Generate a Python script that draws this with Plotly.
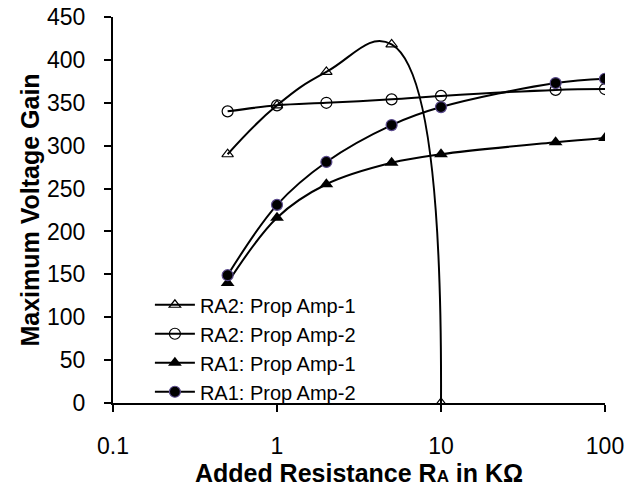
import plotly.graph_objects as go

x_vals = [0.5, 1, 2, 5, 10, 50, 100]
x_ra2_amp1 = [0.5, 1, 2, 5, 10]
ra2_amp1 = [290, 347, 386, 418, 0]
ra2_amp2 = [340, 347, 350, 354, 358, 365, 366]
ra1_amp1 = [140, 216, 255, 280, 290, 304, 309]
ra1_amp2 = [149, 231, 281, 324, 345, 373, 378]

y_ticks = [0, 50, 100, 150, 200, 250, 300, 350, 400, 450]
x_ticks = [0.1, 1, 10, 100]
x_tick_labels = ["0.1", "1", "10", "100"]

FONT = "Liberation Sans, Arial, sans-serif"

fig = go.Figure()
common_line = dict(color="black", width=2, shape="spline", smoothing=1)

fig.add_trace(go.Scatter(
    x=x_ra2_amp1, y=ra2_amp1, mode="lines+markers", name="RA2: Prop Amp-1",
    line=dict(color="black", width=2, shape="spline", smoothing=1.3),
    marker=dict(symbol="triangle-up-open", size=10, color="black", line=dict(width=1.2, color="black")),
))
fig.add_trace(go.Scatter(
    x=x_vals, y=ra2_amp2, mode="lines+markers", name="RA2: Prop Amp-2",
    line=common_line,
    marker=dict(symbol="circle-open", size=11, color="black", line=dict(width=1.2, color="black")),
))
fig.add_trace(go.Scatter(
    x=x_vals, y=ra1_amp1, mode="lines+markers", name="RA1: Prop Amp-1",
    line=common_line,
    marker=dict(symbol="triangle-up", size=12, color="black"),
))
fig.add_trace(go.Scatter(
    x=x_vals, y=ra1_amp2, mode="lines+markers", name="RA1: Prop Amp-2",
    line=common_line,
    marker=dict(symbol="circle", size=11, color="black", line=dict(width=1.2, color="#5a4a8c")),
))

fig.update_layout(
    width=628, height=487,
    margin=dict(l=113, r=23, t=17, b=84),
    paper_bgcolor="white", plot_bgcolor="white",
    font=dict(family=FONT, size=23, color="black"),
    showlegend=True,
    legend=dict(
        x=0.075, y=0.305, xanchor="left", yanchor="top",
        bgcolor="rgba(0,0,0,0)", font=dict(size=20, family=FONT),
        itemwidth=40, tracegroupgap=0,
    ),
    xaxis=dict(
        type="log", range=[-1, 2], automargin=False,
        tickvals=x_ticks, ticktext=x_tick_labels,
        showgrid=False, zeroline=False,
        showline=True, linecolor="black", linewidth=2,
        ticks="outside", ticklen=7, tickwidth=2, tickcolor="black",
        ticklabelstandoff=14,
        tickfont=dict(size=23),
        title=dict(text="<b>Added Resistance R<span style='font-size:17px'>A</span> in KΩ</b>",
                   font=dict(size=25), standoff=4),
    ),
    yaxis=dict(
        range=[0, 450], automargin=False,
        tickvals=y_ticks,
        showgrid=False, zeroline=False,
        showline=True, linecolor="black", linewidth=2,
        ticks="outside", ticklen=7, tickwidth=2, tickcolor="black",
        ticklabelstandoff=14,
        tickfont=dict(size=23),
        title=dict(text="<b>Maximum Voltage Gain</b>", font=dict(size=25), standoff=0),
    ),
)

fig.write_html("out.html")
